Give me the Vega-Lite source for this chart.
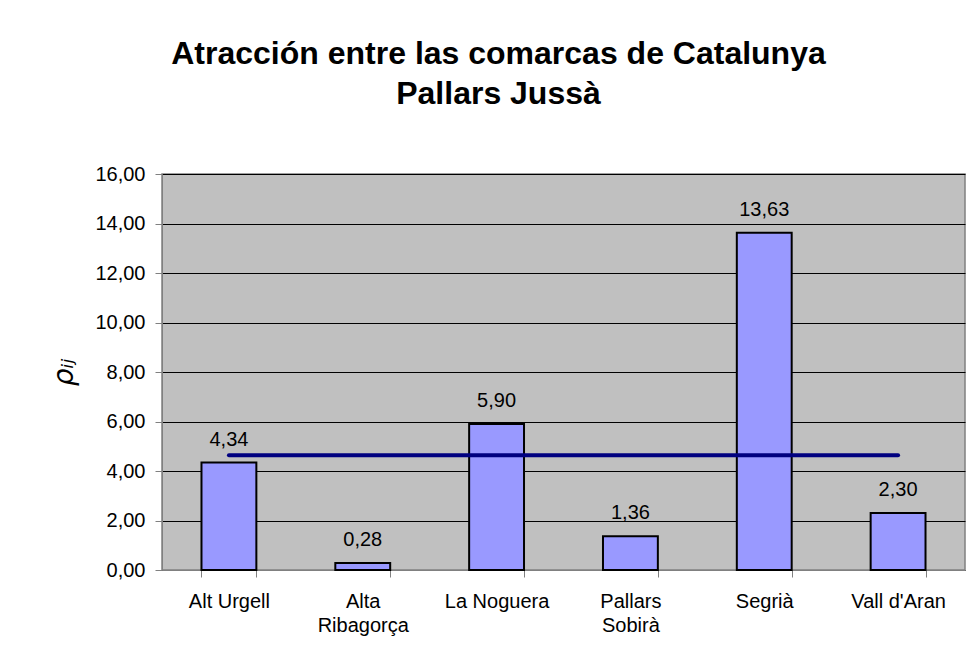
{
  "$schema": "https://vega.github.io/schema/vega-lite/v6.json",
  "width": 803,
  "height": 396,
  "autosize": {"type": "none"},
  "padding": {"left": 162, "top": 174, "right": 9, "bottom": 91},
  "background": "white",
  "title": {
    "text": ["Atracción entre las comarcas de Catalunya", "Pallars Jussà"],
    "font": "Liberation Sans",
    "fontSize": 32,
    "fontWeight": "bold",
    "color": "black",
    "lineHeight": 40,
    "anchor": "middle",
    "dx": -65,
    "offset": 53
  },
  "data": {
    "values": [
      {"comarca": "Alt Urgell", "valor": 4.34},
      {"comarca": "Alta Ribagorça", "valor": 0.28},
      {"comarca": "La Noguera", "valor": 5.90},
      {"comarca": "Pallars Sobirà", "valor": 1.36},
      {"comarca": "Segrià", "valor": 13.63},
      {"comarca": "Vall d'Aran", "valor": 2.30}
    ]
  },
  "encoding": {
    "x": {
      "field": "comarca",
      "type": "nominal",
      "sort": null,
      "scale": {"paddingInner": 0.59, "paddingOuter": 0.295},
      "axis": {
        "title": null,
        "labelAngle": 0,
        "tickBand": "extent",
        "tickSize": 7,
        "tickColor": "#808080",
        "domainColor": "#808080",
        "labelPadding": 14,
        "labelFont": "Liberation Sans",
        "labelFontSize": 20,
        "labelColor": "black",
        "labelBaseline": "top",
        "labelLineHeight": 24,
        "labelExpr": "datum.label == 'Alta Ribagorça' ? ['Alta', 'Ribagorça'] : datum.label == 'Pallars Sobirà' ? ['Pallars', 'Sobirà'] : datum.label"
      }
    }
  },
  "layer": [
    {
      "mark": {"type": "bar", "fill": "#9999FF", "stroke": "black", "strokeWidth": 2},
      "encoding": {
        "y": {
          "field": "valor",
          "type": "quantitative",
          "scale": {"domain": [0, 16], "nice": false},
          "axis": {
            "title": "ρᵢⱼ",
            "titleFont": "DejaVu Sans",
            "titleFontSize": 28,
            "titleFontWeight": "normal",
            "titleFontStyle": "italic",
            "titleColor": "black",
            "titlePadding": 16,
            "values": [0, 2, 4, 6, 8, 10, 12, 14, 16],
            "format": ".2f",
            "grid": true,
            "gridColor": "black",
            "gridOpacity": 1,
            "gridWidth": 1,
            "tickSize": 7,
            "tickColor": "#808080",
            "domainColor": "#808080",
            "labelPadding": 10,
            "labelFont": "Liberation Sans",
            "labelFontSize": 20,
            "labelColor": "black"
          }
        }
      }
    },
    {
      "mark": {"type": "text", "font": "Liberation Sans", "fontSize": 20, "color": "black", "baseline": "alphabetic", "dy": -17},
      "encoding": {
        "y": {"field": "valor", "type": "quantitative"},
        "text": {"field": "valor", "type": "quantitative", "format": ".2f"}
      }
    },
    {
      "transform": [{"joinaggregate": [{"op": "mean", "field": "valor", "as": "media"}]}],
      "mark": {"type": "line", "color": "#000080", "strokeWidth": 4, "strokeCap": "round"},
      "encoding": {
        "y": {"field": "media", "type": "quantitative"}
      }
    }
  ],
  "config": {
    "locale": {"number": {"decimal": ",", "thousands": ".", "grouping": [3], "currency": ["", " €"]}},
    "view": {"fill": "#C0C0C0", "stroke": "#808080", "strokeWidth": 1.5}
  }
}
